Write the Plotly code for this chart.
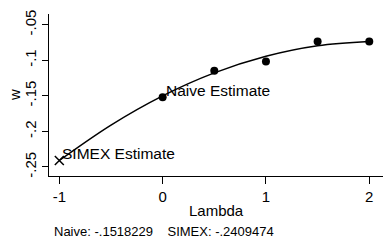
import plotly.graph_objects as go

# Data
lambdas = [0, 0.5, 1, 1.5, 2]
w_values = [-0.1518, -0.1148, -0.1017, -0.0735, -0.0735]
simex_lambda = [-1]
simex_value = [-0.2409]
curve_lambda = [-1, -0.5, 0, 0.5, 1, 1.5, 2]
curve_w = [-0.2409, -0.1911, -0.1500, -0.1177, -0.0943, -0.0795, -0.0735]
x_ticks = [-1, 0, 1, 2]
x_ticklabels = ["-1", "0", "1", "2"]
y_ticks = [-0.25, -0.2, -0.15, -0.1, -0.05]
y_ticklabels = ["-.25", "-.2", "-.15", "-.1", "-.05"]
x_title = "Lambda"
y_title = "w"
footnote = "Naive: -.1518229\u00a0\u00a0\u00a0\u00a0SIMEX: -.2409474"

FONT = "Liberation Sans, Arial, sans-serif"

fig = go.Figure()
fig.add_trace(go.Scatter(x=curve_lambda, y=curve_w, mode="lines",
                         line=dict(color="black", width=1.5, shape="spline"),
                         hoverinfo="skip", cliponaxis=False))
fig.add_trace(go.Scatter(x=lambdas, y=w_values, mode="markers", cliponaxis=False,
                         marker=dict(color="black", size=8, symbol="circle")))
fig.add_trace(go.Scatter(x=simex_lambda, y=simex_value, mode="markers", cliponaxis=False,
                         marker=dict(color="black", size=9, symbol="x-thin",
                                     line=dict(color="black", width=1.5))))

fig.add_annotation(x=lambdas[0], y=w_values[0], text="Naive Estimate",
                   showarrow=False, xanchor="left", yanchor="middle",
                   xshift=1, yshift=7, font=dict(family=FONT, size=15.5, color="black"))
fig.add_annotation(x=simex_lambda[0], y=simex_value[0], text="SIMEX Estimate",
                   showarrow=False, xanchor="left", yanchor="middle",
                   xshift=1, yshift=7, font=dict(family=FONT, size=15.5, color="black"))
fig.add_annotation(xref="paper", yref="paper", x=0, y=0, text=footnote,
                   showarrow=False, xanchor="left", yanchor="middle",
                   xshift=3, yshift=-55, font=dict(family=FONT, size=13, color="black"))
fig.add_annotation(xref="paper", yref="paper", x=0.5, y=0, text=x_title,
                   showarrow=False, xanchor="center", yanchor="middle",
                   yshift=-34, font=dict(family=FONT, size=15, color="black"))
fig.add_annotation(xref="paper", yref="paper", x=0, y=0.5, text=y_title,
                   showarrow=False, xanchor="center", yanchor="middle", textangle=-90,
                   xshift=-35, font=dict(family=FONT, size=15, color="black"))

fig.update_layout(
    width=383, height=244,
    margin=dict(l=49, r=0, t=14, b=68, autoexpand=False),
    paper_bgcolor="white", plot_bgcolor="white",
    showlegend=False,
    font=dict(family=FONT, size=15, color="black"),
)
fig.update_xaxes(range=[-1.1, 2.133], tickvals=x_ticks, ticktext=x_ticklabels,
                 automargin=False,
                 showline=True, linecolor="black", linewidth=1,
                 ticks="outside", ticklen=7, tickcolor="black",
                 showgrid=False, zeroline=False)
fig.update_yaxes(range=[-0.2627, -0.0349], tickvals=y_ticks, ticktext=y_ticklabels,
                 automargin=False,
                 showline=True, linecolor="black", linewidth=1,
                 ticks="outside", ticklen=6, tickcolor="black", tickangle=-90,
                 showgrid=False, zeroline=False)

fig.write_html("out.html", config={"displayModeBar": False},
               post_script="document.body.style.margin='0';document.body.style.overflow='hidden';")
